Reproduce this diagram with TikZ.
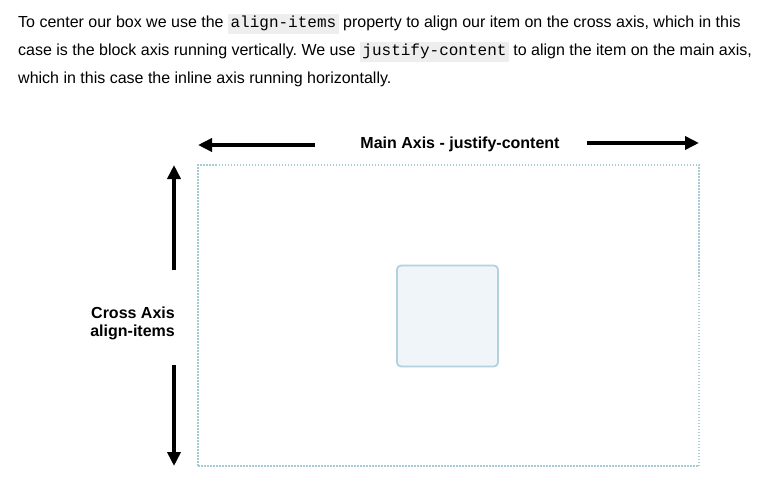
\documentclass[tikz,border=0pt]{standalone}
\usepackage{fontspec}
\setmainfont{Liberation Sans}
\setmonofont{Liberation Mono}
\usetikzlibrary{positioning,arrows.meta}

\definecolor{codebg}{HTML}{EEEEEE}
\definecolor{dotline}{HTML}{A8CAD6}
\definecolor{itemfill}{HTML}{EFF5F8}
\definecolor{itemdraw}{HTML}{B3D2DD}
\newcommand{\codebox}[1]{{\setlength{\fboxsep}{2.5pt}\colorbox{codebg}{\ttfamily\vphantom{Ag}#1}}}

\tikzset{
  bodytext/.style={anchor=base west, inner sep=0pt, font=\fontsize{16}{20}\selectfont},
  axislabel/.style={inner sep=0pt, font=\fontsize{16}{18}\selectfont\bfseries},
  axisarrow/.style={->, line width=4pt, black},
}
\frenchspacing

\begin{document}
\begin{tikzpicture}[x=1pt,y=-1pt,>={Triangle[length=14pt,width=13pt]}]
            \useasboundingbox (0,0) rectangle (759,497);

            % paragraph
            \node[bodytext] (line1) at (18,28) {To center our box we use the \codebox{align-items} property to align our item on the cross axis, which in this};
            \node[bodytext] (line2) at (18,56) {case is the block axis running vertically. We use \codebox{justify-content} to align the item on the main axis,};
            \node[bodytext] (line3) at (18,84) {which in this case the inline axis running horizontally.};

            % flex container and item
            \node[draw=dotline, line width=1.5pt, dash pattern=on 1.5pt off 1.5pt,
                  minimum width=501pt, minimum height=301pt, inner sep=0pt] (container) at (448.5,315.5) {};
            \node[draw=itemdraw, fill=itemfill, line width=1.8pt, rounded corners=4pt,
                  minimum width=101pt, minimum height=101pt, inner sep=0pt] (item) at (447.5,316) {};

            % main axis
            \node[axislabel] (mainlabel) at (460,144) {Main Axis - justify-content};
            \coordinate (mainL) at (315,145);
            \coordinate (mainLend) at (198,145);
            \coordinate (mainR) at (587,143);
            \coordinate (mainRend) at (699,143);
            \draw[axisarrow] (mainL) -- (mainLend);
            \draw[axisarrow] (mainR) -- (mainRend);

            % cross axis
            \node[axislabel, align=right, anchor=east] (crosslabel) at (175,323) {Cross Axis\\align-items};
            \coordinate (crossT) at (174,270);
            \coordinate (crossTend) at (174,165);
            \coordinate (crossB) at (174,365);
            \coordinate (crossBend) at (174,466);
            \draw[axisarrow] (crossT) -- (crossTend);
            \draw[axisarrow] (crossB) -- (crossBend);
\end{tikzpicture}
\end{document}
